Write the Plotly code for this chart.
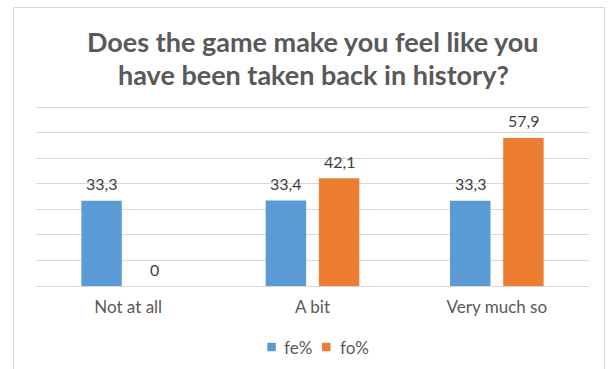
import plotly.graph_objects as go

# Survey answers and the share of each response type
categories = ["Not at all", "A bit", "Very much so"]
fe_values = [33.3, 33.4, 33.3]
fo_values = [0, 42.1, 57.9]
series_names = ["fe%", "fo%"]
title_lines = ["Does the game make you feel like you", "have been taken back in history?"]

W, H = 611, 369
M_L, M_R, M_T, M_B = 36, 22, 106, 83
PLOT_W = W - M_L - M_R
PLOT_H = H - M_T - M_B

BLUE = "#5B9BD5"
ORANGE = "#ED7D31"
GRID = "#D9D9D9"
TEXT = "#595959"
FONT = "Lato"


def px_x(x):
    return (x - M_L) / PLOT_W


def px_y(y):
    return (H - M_B - y) / PLOT_H


def fmt(v):
    return f"{v:g}".replace(".", ",")


fig = go.Figure()
colors = [BLUE, ORANGE]
for name, vals, col in zip(series_names, [fe_values, fo_values], colors):
    fig.add_trace(go.Bar(
        x=categories, y=vals, name=name,
        marker=dict(color=col, line=dict(width=0)),
        showlegend=False, hoverinfo="x+y",
    ))

BARGAP = 0.423
GROUPGAP = 0.239
slot_px = PLOT_W / len(categories) * (1 - BARGAP) / 2

annotations = []
for i, vals in enumerate([fe_values, fo_values]):
    shift = (i - 0.5) * slot_px
    for c, v in zip(categories, vals):
        annotations.append(dict(
            x=c, y=v, xref="x", yref="y", text=fmt(v), showarrow=False,
            xshift=shift, yshift=17, yanchor="middle",
            font=dict(family=FONT, size=16, color="#404040"),
        ))

# Two-line chart title
for line, cy in zip(title_lines, [42, 75]):
    annotations.append(dict(
        x=px_x(313), y=px_y(cy), xref="paper", yref="paper", text=line,
        showarrow=False, xanchor="center", yanchor="middle",
        font=dict(family=FONT, size=27, color=TEXT, weight="bold"),
    ))

# Legend drawn as swatches and labels below the axis
legend_items = [(267.3, 282, BLUE, series_names[0]), (322, 337.5, ORANGE, series_names[1])]
shapes = []
for sx, tx, col, name in legend_items:
    shapes.append(dict(
        type="rect", xref="paper", yref="paper",
        x0=px_x(sx), x1=px_x(sx + 8.5), y0=px_y(351.2), y1=px_y(342.8),
        fillcolor=col, line=dict(width=0),
    ))
    annotations.append(dict(
        x=px_x(tx), y=px_y(347), xref="paper", yref="paper", text=name,
        showarrow=False, xanchor="left", yanchor="middle",
        font=dict(family=FONT, size=17, color=TEXT),
    ))

# Chart frame
shapes.append(dict(
    type="rect", xref="paper", yref="paper",
    x0=px_x(13.5), x1=px_x(604.5), y0=px_y(380), y1=px_y(7.5),
    line=dict(color=GRID, width=1), fillcolor="rgba(0,0,0,0)", layer="below",
))

fig.update_layout(
    width=W, height=H,
    margin=dict(l=M_L, r=M_R, t=M_T, b=M_B),
    paper_bgcolor="white", plot_bgcolor="white",
    barmode="group", bargap=BARGAP, bargroupgap=GROUPGAP,
    xaxis=dict(
        showgrid=False, showline=False, ticks="",
        tickfont=dict(family=FONT, size=17, color=TEXT),
        ticklabelstandoff=9,
    ),
    yaxis=dict(
        range=[0, PLOT_H / 2.557], dtick=10, showgrid=True, gridcolor=GRID, gridwidth=1,
        zeroline=True, zerolinecolor=GRID, zerolinewidth=1,
        showticklabels=False, ticks="", showline=False,
    ),
    annotations=annotations,
    shapes=shapes,
    font=dict(family=FONT),
)

fig.write_html("out.html")
